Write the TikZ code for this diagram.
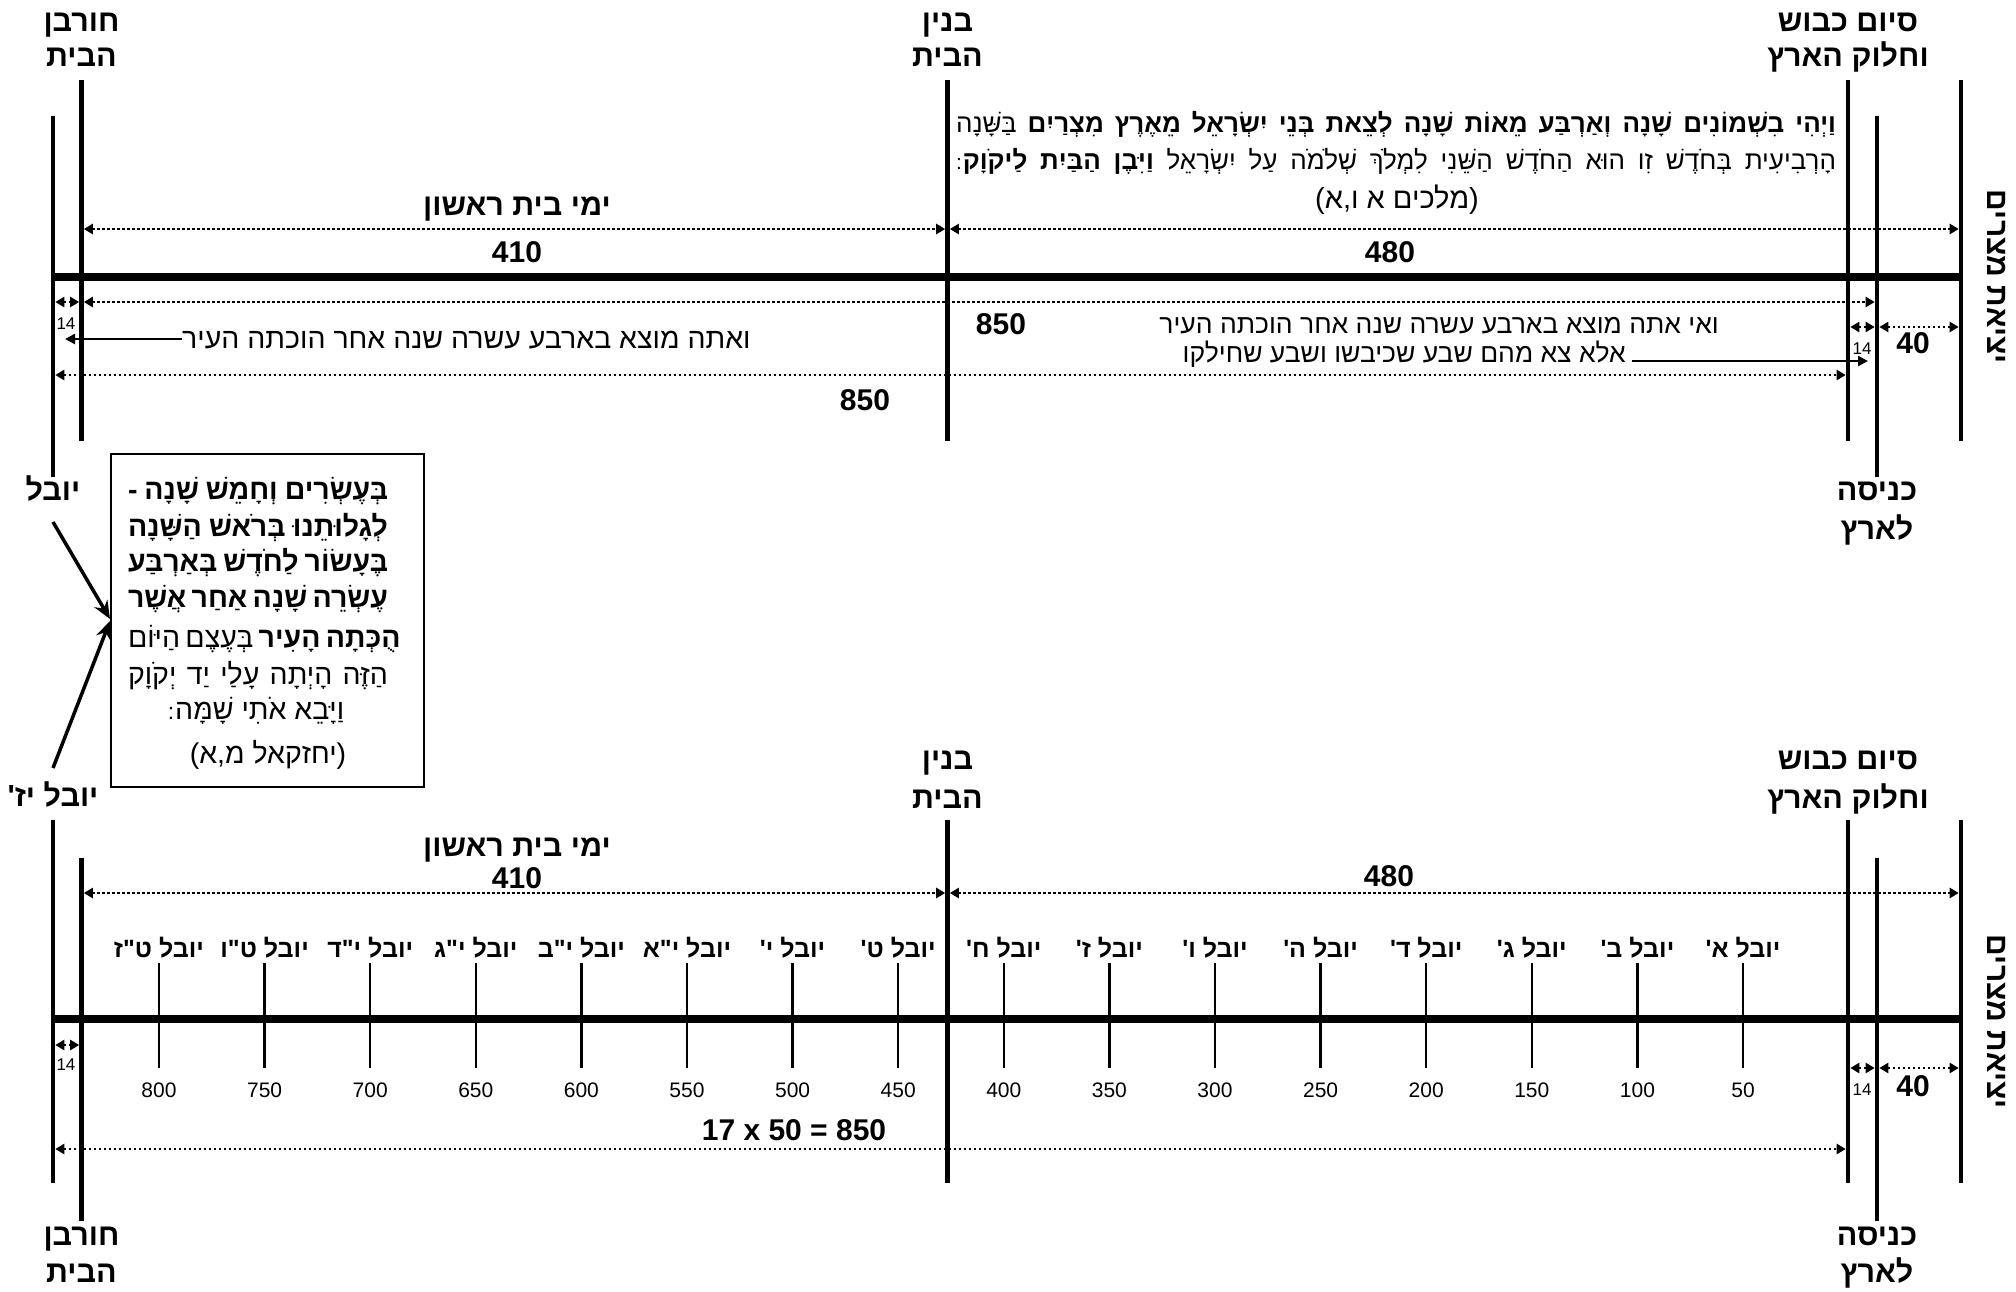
\documentclass[tikz,border=0pt]{standalone}
\usepackage{fontspec}
\setmainfont{Liberation Sans}
\newfontfamily\hebfont[Script=Hebrew]{Liberation Sans}
\TeXXeTstate=1
\usetikzlibrary{arrows.meta}
\newcommand\HE[1]{{\hebfont\beginR #1\endR}}
\newcommand\sofp{\kern1pt{\normalfont\fontsize{0.8em}{1em}\selectfont :}}
\begin{document}
\begin{tikzpicture}[x=1pt,y=-1pt,
  vline/.style={line width=4.5pt},
  axisline/.style={line width=7.5pt, shorten <=-2.25pt, shorten >=-2.25pt},
  tickline/.style={line width=2.4pt},
  dimarrow/.style={line width=2.6pt, dash pattern=on 2.5pt off 2.5pt,
     {Triangle[length=9pt,width=10pt]}-{Triangle[length=9pt,width=10pt]},
     shorten <=2.3pt, shorten >=2.3pt},
  solidarrow/.style={line width=2.6pt, -{Triangle[length=10pt,width=10pt]}},
  bigarrow/.style={line width=3.5pt, -{Stealth[length=18pt,width=15pt]}},
  lbl/.style={font=\fontsize{30.5}{33}\selectfont\bfseries, inner sep=0pt, anchor=mid, yshift=-6pt},
  bignum/.style={font=\fontsize{30}{32}\selectfont\bfseries, inner sep=0pt},
  smallnum/.style={font=\fontsize{17}{19}\selectfont, inner sep=0pt},
  ticknum/.style={font=\fontsize{21}{23}\selectfont, inner sep=0pt},
  ticklbl/.style={font=\fontsize{25}{27}\selectfont\bfseries, inner sep=0pt, anchor=mid},
  bodytxt/.style={font=\fontsize{26.5}{28}\selectfont, inner sep=0pt},
  versetxt/.style={font=\fontsize{26}{28}\selectfont, inner sep=0pt, anchor=mid},
  boxtxt/.style={font=\fontsize{28.5}{30}\selectfont, inner sep=0pt, anchor=mid},
  sidelbl/.style={font=\fontsize{30}{32}\selectfont\bfseries, inner sep=0pt, rotate=-90}
]
\fill[white] (0,0) rectangle (2016,1291);
\useasboundingbox (0,0) rectangle (2016,1291);

% ================= TOP DIAGRAM =================
\coordinate (Bt1) at (53,116);   \coordinate (Bb1) at (53,477);
\coordinate (At1) at (81.5,80);  \coordinate (Ab1) at (81.5,441);
\coordinate (Ct1) at (947.5,80); \coordinate (Cb1) at (947.5,441);
\coordinate (Dt1) at (1848,80);  \coordinate (Db1) at (1848,441);
\coordinate (Et1) at (1877,116); \coordinate (Eb1) at (1877,477);
\coordinate (Ft1) at (1961,80);  \coordinate (Fb1) at (1961,441);
\coordinate (ax1) at (0,277);
\coordinate (r1a) at (0,229);
\coordinate (r1b) at (0,302);
\coordinate (r1c) at (0,375);
\coordinate (r1d) at (0,327);
\coordinate (r1e) at (0,339);
\coordinate (r1f) at (0,361);

\foreach \l in {B,A,C,D,E,F}{\draw[vline] (\l t1) -- (\l b1);}
\draw[axisline] (Bt1 |- ax1) -- (Ft1 |- ax1);

\node[lbl] (hA1a) at (81.5,23) {\HE{חורבן}};
\node[lbl] (hA1b) at (81.5,58) {\HE{הבית}};
\node[lbl] (hC1a) at (947.5,23) {\HE{בנין}};
\node[lbl] (hC1b) at (947.5,58) {\HE{הבית}};
\node[lbl] (hD1a) at (1848,23) {\HE{סיום כבוש}};
\node[lbl] (hD1b) at (1848,58) {\HE{וחלוק הארץ}};
\node[lbl] (yov1) at (53,492) {\HE{יובל}};
\node[lbl] (hE1a) at (1877,492) {\HE{כניסה}};
\node[lbl] (hE1b) at (1877,531) {\HE{לארץ}};
\node[sidelbl] (exo1) at (1997,277) {\HE{יציאת מצרים}};

% verse
\node[versetxt] (v1) at (1396,130) {\hbox to 880pt{\hebfont\beginR{\bfseries וַיְהִי בִשְׁמוֹנִים שָׁנָה וְאַרְבַּע מֵאוֹת שָׁנָה לְצֵאת בְּנֵי יִשְׂרָאֵל מֵאֶרֶץ מִצְרַיִם} בַּשָּׁנָה\endR}};
\node[versetxt] (v2) at (1396,167) {\hbox to 880pt{\hebfont\beginR הָרְבִיעִית בְּחֹדֶשׁ זִו הוּא הַחֹדֶשׁ הַשֵּׁנִי לִמְלֹךְ שְׁלֹמֹה עַל יִשְׂרָאֵל {\bfseries וַיִּבֶן הַבַּיִת לַיקֹוָק}\sofp\endR}};
\node[versetxt, font=\fontsize{29}{31}\selectfont] (v3) at (1397,206) {\HE{(מלכים א ו,א)}};

\node[lbl] (t410a) at (517,207) {\HE{ימי בית ראשון}};
\node[bignum] (n410a) at (517,252) {410};
\node[bignum] (n480a) at (1390,252) {480};
\draw[dimarrow] (At1 |- r1a) -- (Ct1 |- r1a);
\draw[dimarrow] (Ct1 |- r1a) -- (Ft1 |- r1a);

\draw[dimarrow] (Bt1 |- r1b) -- (At1 |- r1b);
\node[smallnum] (s14a) at (66,324) {14};
\draw[dimarrow] (At1 |- r1b) -- (Et1 |- r1b);
\node[bignum] (n850a) at (1001,324) {850};

\node[bodytxt, font=\fontsize{28.5}{30}\selectfont, anchor=mid west] (txt1) at (182,346) {\HE{ואתה מוצא בארבע עשרה שנה אחר הוכתה העיר}};
\draw[solidarrow, shorten >=12pt] (txt1.west |- r1e) -- (Bt1 |- r1e);

\draw[dimarrow] (Bt1 |- r1c) -- (Dt1 |- r1c);
\node[bignum] (n850b) at (865,400) {850};

\node[bodytxt, anchor=mid east] (txt2) at (1719,331) {\HE{ואי אתה מוצא בארבע עשרה שנה אחר הוכתה העיר}};
\node[bodytxt, anchor=mid east] (txt3) at (1626,360) {\HE{אלא צא מהם שבע שכיבשו ושבע שחילקו}};
\draw[solidarrow, shorten >=9pt] ([xshift=6pt]txt3.east |- r1f) -- (Et1 |- r1f);

\draw[dimarrow] (Dt1 |- r1d) -- (Et1 |- r1d);
\draw[dimarrow] (Et1 |- r1d) -- (Ft1 |- r1d);
\node[smallnum] (s14b) at (1862,349) {14};
\node[bignum] (n40a) at (1913,343) {40};

% ================= BOX =================
\node[draw, line width=2pt, minimum width=313pt, minimum height=333pt, inner sep=0pt] (box) at (267.5,620) {};
\node[boxtxt] (b1) at (258,497) {\hbox to 260pt{\hebfont\bfseries\beginR בְּעֶשְׂרִים וְחָמֵשׁ שָׁנָה -\endR}};
\node[boxtxt] (b2) at (258,534) {\hbox to 260pt{\hebfont\bfseries\beginR לְגָלוּתֵנוּ בְּרֹאשׁ הַשָּׁנָה\endR}};
\node[boxtxt] (b3) at (258,569) {\hbox to 260pt{\hebfont\bfseries\beginR בֶּעָשׂוֹר לַחֹדֶשׁ בְּאַרְבַּע\endR}};
\node[boxtxt] (b4) at (258,605) {\hbox to 260pt{\hebfont\bfseries\beginR עֶשְׂרֵה שָׁנָה אַחַר אֲשֶׁר\endR}};
\node[boxtxt] (b5) at (258,645) {\hbox to 260pt{\hebfont\beginR{\bfseries הֻכְּתָה הָעִיר} בְּעֶצֶם הַיּוֹם\endR}};
\node[boxtxt] (b6) at (258,682) {\hbox to 260pt{\hebfont\beginR הַזֶּה הָיְתָה עָלַי יַד יְקֹוָק\endR}};
\node[boxtxt] (b7) at (256,717) {\HE{וַיָּבֵא אֹתִי שָׁמָּה\sofp}};
\node[boxtxt] (b8) at (268,761) {\HE{(יחזקאל מ,א)}};

\coordinate (ar1) at (53,522);
\coordinate (ar2) at (53,768);
\draw[bigarrow] (ar1) -- ([yshift=1pt]box.west);
\draw[bigarrow] (ar2) -- ([yshift=-1pt]box.west);

% ================= BOTTOM DIAGRAM =================
\coordinate (Bt2) at (53,820);   \coordinate (Bb2) at (53,1183);
\coordinate (At2) at (81.5,858); \coordinate (Ab2) at (81.5,1221);
\coordinate (Ct2) at (947.5,820); \coordinate (Cb2) at (947.5,1183);
\coordinate (Dt2) at (1848,820);  \coordinate (Db2) at (1848,1183);
\coordinate (Et2) at (1877,858);  \coordinate (Eb2) at (1877,1221);
\coordinate (Ft2) at (1961,820);  \coordinate (Fb2) at (1961,1183);
\coordinate (ax2) at (0,1019);
\coordinate (r2a) at (0,893);
\coordinate (r2b) at (0,1045);
\coordinate (r2c) at (0,1149);
\coordinate (r2d) at (0,1068);

\foreach \l in {B,A,C,D,E,F}{\draw[vline] (\l t2) -- (\l b2);}
\draw[axisline] (Bt2 |- ax2) -- (Ft2 |- ax2);

\node[lbl] (yov2) at (53,798) {\HE{יובל יז'}};
\node[lbl] (hC2a) at (947.5,761) {\HE{בנין}};
\node[lbl] (hC2b) at (947.5,800) {\HE{הבית}};
\node[lbl] (hD2a) at (1848,761) {\HE{סיום כבוש}};
\node[lbl] (hD2b) at (1848,800) {\HE{וחלוק הארץ}};
\node[lbl] (hA2a) at (81.5,1237) {\HE{חורבן}};
\node[lbl] (hA2b) at (81.5,1274) {\HE{הבית}};
\node[lbl] (hE2a) at (1877,1237) {\HE{כניסה}};
\node[lbl] (hE2b) at (1877,1274) {\HE{לארץ}};
\node[sidelbl] (exo2) at (1997,1022) {\HE{יציאת מצרים}};

\node[lbl] (t410b) at (517,848) {\HE{ימי בית ראשון}};
\node[bignum] (n410b) at (517,878) {410};
\node[bignum] (n480b) at (1389,876) {480};
\draw[dimarrow] (At2 |- r2a) -- (Ct2 |- r2a);
\draw[dimarrow] (Ct2 |- r2a) -- (Ft2 |- r2a);

\foreach \k/\lab/\num in {0/ט"ז/800,1/ט"ו/750,2/י"ד/700,3/י"ג/650,4/י"ב/600,5/י"א/550,6/י'/500,7/ט'/450,8/ח'/400,9/ז'/350,10/ו'/300,11/ה'/250,12/ד'/200,13/ג'/150,14/ב'/100,15/א'/50}{
  \pgfmathsetmacro\tx{159+105.6*\k}
  \coordinate (tt\k) at (\tx,963);
  \coordinate (tb\k) at (\tx,1068);
  \draw[tickline] (tt\k) -- (tb\k);
  \node[ticklbl] (tl\k) at (\tx,955) {\HE{יובל \lab}};
  \node[ticknum] (tn\k) at (\tx,1090) {\num};
}

\draw[dimarrow] (Bt2 |- r2b) -- (At2 |- r2b);
\node[smallnum] (s14c) at (66,1065) {14};
\node[bignum] (n850c) at (794,1130) {17 x 50 = 850};
\draw[dimarrow] (Bt2 |- r2c) -- (Dt2 |- r2c);

\draw[dimarrow] (Dt2 |- r2d) -- (Et2 |- r2d);
\draw[dimarrow] (Et2 |- r2d) -- (Ft2 |- r2d);
\node[smallnum] (s14d) at (1862,1090) {14};
\node[bignum] (n40b) at (1913,1086) {40};
\end{tikzpicture}
\end{document}
